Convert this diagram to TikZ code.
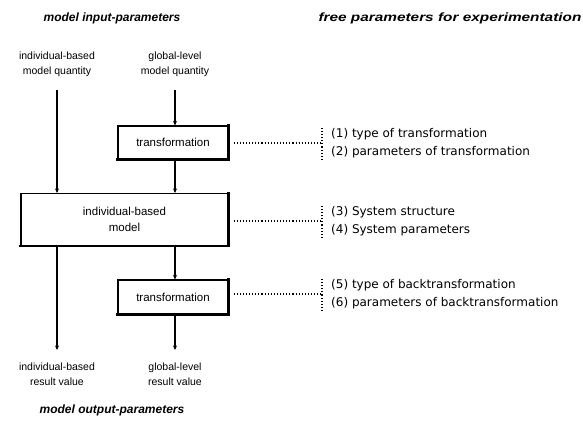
\documentclass[tikz,border=0pt]{standalone}
\usepackage{fontspec}
\setmainfont{Liberation Sans}
\newfontfamily\labelfont{DejaVu Sans}
\usetikzlibrary{arrows.meta}
\begin{document}
\begin{tikzpicture}[x=1pt,y=-1pt,
  heading/.style={font=\fontsize{12}{14}\selectfont\bfseries\itshape, inner sep=0pt},
  quantity/.style={font=\fontsize{10.5}{15}\selectfont, align=center, inner sep=0pt},
  procbox/.style={draw, line width=1.1pt, font=\fontsize{11.5}{16}\selectfont, align=center, inner sep=0pt},
  param/.style={font=\labelfont\fontsize{12}{17.5}\selectfont, align=left, anchor=west, inner sep=0pt},
  flow/.style={line width=1.3pt, -{Stealth[length=4.5pt,width=4pt]}},
  link/.style={line width=1.1pt, dotted},
  shade/.style={line width=2.6pt, line cap=rect}
]
\useasboundingbox (0,0) rectangle (583,430);

% headings
\node[heading] (hin)  at (112,18) {model input-parameters};
\node[heading, xscale=1.28, transform shape] (hfree) at (450,18) {free parameters for experimentation};
\node[heading] (hout) at (112,410) {model output-parameters};

% model quantities
\node[quantity] (iq) at (57,64) {individual-based\\model quantity};
\node[quantity] (gq) at (175,64) {global-level\\model quantity};

% processing boxes
\node[procbox, minimum width=110pt, minimum height=33pt] (t1) at (173,142.5) {transformation};
\node[procbox, minimum width=207pt, minimum height=52pt] (ibm) at (124.5,219.5) {individual-based\\model};
\node[procbox, minimum width=110pt, minimum height=34pt] (t2) at (173,297) {transformation};
\foreach \b in {t1,ibm,t2}
  \draw[shade] (\b.south west) -- (\b.south east) -- (\b.north east);

% results
\node[quantity] (ir) at (57,374) {individual-based\\result value};
\node[quantity] (gr) at (175,374) {global-level\\result value};

% flow of quantities
\coordinate (iqs) at (57,90);
\coordinate (gqs) at (175,90);
\draw[flow] (iqs) -- (iqs |- ibm.north);
\draw[flow] (gqs) -- (gqs |- t1.north);
\draw[flow] (t1.south -| gqs) -- (gqs |- ibm.north);
\draw[flow] (ibm.south -| gqs) -- (gqs |- t2.north);
\coordinate (ire) at (57,350);
\coordinate (gre) at (175,350);
\draw[flow] (ibm.south -| iqs) -- (ire);
\draw[flow] (t2.south -| gqs) -- (gre);

% free parameters
\node[param] (p1) at (331,143) {(1) type of transformation\\(2) parameters of transformation};
\node[param] (p2) at (331,221) {(3) System structure\\(4) System parameters};
\node[param] (p3) at (331,294) {(5) type of backtransformation\\(6) parameters of backtransformation};

\foreach \b/\p in {t1/p1,ibm/p2,t2/p3}{
  \coordinate (k\p) at ([xshift=-9pt]\p.west);
  \draw[link] ([xshift=5pt]\b.east |- k\p) -- (k\p);
  \draw[link] ([yshift=-17pt]k\p) -- ([yshift=17pt]k\p);
}
\end{tikzpicture}
\end{document}
